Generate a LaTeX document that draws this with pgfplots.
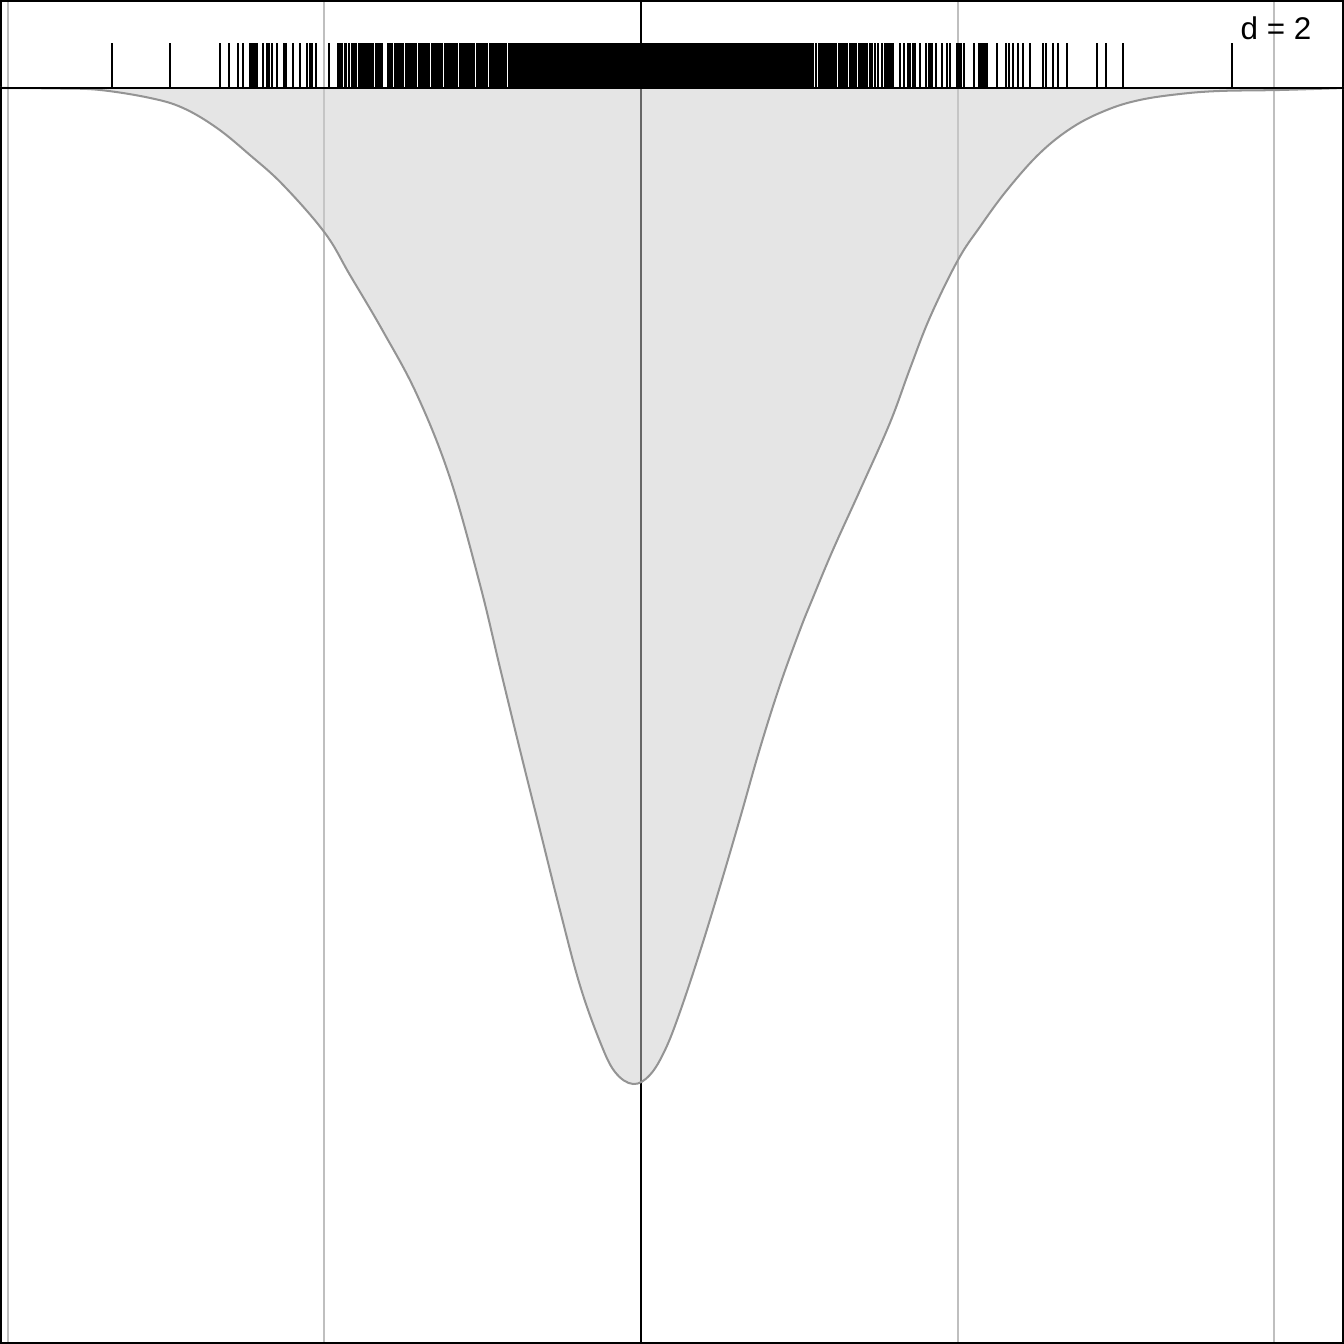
\documentclass[border=0pt]{standalone}
\usepackage{pgfplots}
\pgfplotsset{compat=1.18}
\usepackage{pgfplotstable}
\usepackage{fontspec}
\setmainfont{Liberation Sans}

% rug positions (data units, grid lines at -2..2)
\pgfplotstableread[row sep=\\]{
x\\ -1.671\\ -1.488\\ -1.329\\ -1.300\\ -1.272\\ -1.258\\ -1.235\\ -1.230\\ -1.224\\ -1.218\\ -1.213\\
-1.193\\ -1.182\\ -1.174\\ -1.166\\ -1.148\\ -1.127\\ -1.121\\ -1.100\\ -1.077\\ -1.054\\ -1.045\\ -1.040\\ -1.026\\ -0.984\\
-0.957\\ -0.950\\ -0.944\\ -0.936\\ -0.930\\ -0.921\\ -0.913\\ -0.907\\ -0.899\\ -0.891\\ -0.885\\ -0.879\\ -0.872\\ -0.866\\
-0.859\\ -0.851\\ -0.845\\ -0.838\\ -0.831\\ -0.825\\ -0.818\\
-0.799\\ -0.792\\ -0.786\\ -0.778\\ -0.771\\ -0.765\\ -0.757\\ -0.750\\ -0.743\\ -0.736\\ -0.729\\ -0.722\\ -0.716\\ -0.709\\
-0.702\\ -0.695\\ -0.688\\ -0.681\\ -0.675\\ -0.668\\ -0.661\\ -0.654\\ -0.647\\ -0.641\\ -0.634\\ -0.627\\ -0.620\\ -0.613\\
-0.607\\ -0.600\\ -0.593\\ -0.586\\ -0.580\\ -0.573\\ -0.566\\ -0.559\\ -0.553\\ -0.546\\ -0.539\\ -0.532\\ -0.526\\ -0.519\\
-0.512\\ -0.505\\ -0.499\\ -0.492\\ -0.485\\ -0.478\\ -0.472\\ -0.465\\ -0.458\\ -0.451\\ -0.445\\ -0.438\\ -0.431\\ -0.426\\
-0.418\\ -0.412\\ -0.406\\ -0.400\\ -0.394\\ -0.388\\ -0.382\\ -0.376\\ -0.370\\ -0.364\\ -0.358\\ -0.352\\ -0.346\\ -0.340\\
-0.334\\ -0.328\\ -0.322\\ -0.316\\ -0.310\\ -0.304\\ -0.298\\ -0.292\\ -0.286\\ -0.280\\ -0.274\\ -0.268\\ -0.262\\ -0.256\\
-0.250\\ -0.244\\ -0.238\\ -0.232\\ -0.226\\ -0.220\\ -0.214\\ -0.208\\ -0.202\\ -0.196\\ -0.190\\ -0.184\\ -0.178\\ -0.172\\
-0.166\\ -0.160\\ -0.154\\ -0.148\\ -0.142\\ -0.136\\ -0.130\\ -0.124\\ -0.118\\ -0.112\\ -0.106\\ -0.100\\ -0.094\\ -0.088\\
-0.082\\ -0.076\\ -0.070\\ -0.064\\ -0.058\\ -0.052\\ -0.046\\ -0.040\\ -0.034\\ -0.028\\ -0.022\\ -0.016\\ -0.010\\ -0.004\\
0.002\\ 0.008\\ 0.014\\ 0.020\\ 0.026\\ 0.032\\ 0.038\\ 0.044\\ 0.050\\ 0.056\\ 0.062\\ 0.068\\ 0.074\\ 0.080\\ 0.086\\
0.092\\ 0.098\\ 0.104\\ 0.110\\ 0.116\\ 0.122\\ 0.128\\ 0.134\\ 0.140\\ 0.146\\ 0.152\\ 0.158\\ 0.164\\ 0.170\\ 0.176\\
0.182\\ 0.188\\ 0.194\\ 0.200\\ 0.206\\ 0.212\\ 0.218\\ 0.224\\ 0.230\\ 0.236\\ 0.242\\ 0.248\\ 0.254\\ 0.260\\ 0.266\\
0.272\\ 0.278\\ 0.284\\ 0.290\\ 0.296\\ 0.302\\ 0.308\\ 0.314\\ 0.320\\ 0.326\\ 0.332\\ 0.338\\ 0.344\\ 0.350\\ 0.356\\
0.362\\ 0.368\\ 0.374\\ 0.380\\ 0.386\\ 0.392\\ 0.398\\ 0.404\\ 0.410\\ 0.416\\ 0.422\\ 0.428\\ 0.434\\ 0.440\\ 0.446\\
0.452\\ 0.458\\ 0.464\\ 0.470\\ 0.476\\ 0.482\\ 0.488\\ 0.494\\ 0.500\\ 0.506\\ 0.512\\ 0.518\\ 0.524\\ 0.530\\ 0.536\\ 0.542\\
0.554\\ 0.561\\ 0.568\\ 0.575\\ 0.582\\ 0.589\\ 0.596\\ 0.603\\ 0.610\\ 0.617\\ 0.624\\ 0.631\\ 0.638\\ 0.645\\ 0.652\\
0.659\\ 0.666\\ 0.673\\ 0.680\\ 0.687\\ 0.694\\ 0.701\\ 0.708\\ 0.715\\ 0.722\\ 0.729\\
0.739\\ 0.748\\ 0.761\\ 0.770\\ 0.777\\ 0.784\\ 0.790\\ 0.796\\ 0.818\\ 0.830\\ 0.843\\ 0.850\\ 0.858\\ 0.865\\ 0.881\\
0.900\\ 0.908\\ 0.914\\ 0.919\\ 0.931\\ 0.950\\ 0.966\\ 0.976\\ 0.998\\ 1.004\\ 1.010\\ 1.020\\ 1.051\\ 1.067\\ 1.073\\
1.080\\ 1.087\\ 1.093\\ 1.125\\ 1.153\\ 1.163\\ 1.176\\ 1.189\\ 1.205\\ 1.228\\ 1.270\\ 1.279\\ 1.300\\ 1.318\\ 1.344\\
1.439\\ 1.468\\ 1.521\\ 1.867\\
-0.415\\ -0.409\\ -0.403\\ -0.397\\ -0.391\\ -0.385\\ -0.379\\ -0.373\\ -0.367\\ -0.361\\ -0.355\\ -0.349\\ -0.343\\ -0.337\\
-0.331\\ -0.325\\ -0.319\\ -0.313\\ -0.307\\ -0.301\\ -0.295\\ -0.289\\ -0.283\\ -0.277\\ -0.271\\ -0.265\\ -0.259\\ -0.253\\
-0.247\\ -0.241\\ -0.235\\ -0.229\\ -0.223\\ -0.217\\ -0.211\\ -0.205\\ -0.199\\ -0.193\\ -0.187\\ -0.181\\ -0.175\\ -0.169\\
-0.163\\ -0.157\\ -0.151\\ -0.145\\ -0.139\\ -0.133\\ -0.127\\ -0.121\\ -0.115\\ -0.109\\ -0.103\\ -0.097\\ -0.091\\ -0.085\\
-0.079\\ -0.073\\ -0.067\\ -0.061\\ -0.055\\ -0.049\\ -0.043\\ -0.037\\ -0.031\\ -0.025\\ -0.019\\ -0.013\\ -0.007\\ -0.001\\
0.005\\ 0.011\\ 0.017\\ 0.023\\ 0.029\\ 0.035\\ 0.041\\ 0.047\\ 0.053\\ 0.059\\ 0.065\\ 0.071\\ 0.077\\ 0.083\\ 0.089\\
0.095\\ 0.101\\ 0.107\\ 0.113\\ 0.119\\ 0.125\\ 0.131\\ 0.137\\ 0.143\\ 0.149\\ 0.155\\ 0.161\\ 0.167\\ 0.173\\ 0.179\\
0.185\\ 0.191\\ 0.197\\ 0.203\\ 0.209\\ 0.215\\ 0.221\\ 0.227\\ 0.233\\ 0.239\\ 0.245\\ 0.251\\ 0.257\\ 0.263\\ 0.269\\
0.275\\ 0.281\\ 0.287\\ 0.293\\ 0.299\\ 0.305\\ 0.311\\ 0.317\\ 0.323\\ 0.329\\ 0.335\\ 0.341\\ 0.347\\ 0.353\\ 0.359\\
0.365\\ 0.371\\ 0.377\\ 0.383\\ 0.389\\ 0.395\\ 0.401\\ 0.407\\ 0.413\\ 0.419\\ 0.425\\ 0.431\\ 0.437\\ 0.443\\ 0.449\\
0.455\\ 0.461\\ 0.467\\ 0.473\\ 0.479\\ 0.485\\ 0.491\\ 0.497\\ 0.503\\ 0.509\\ 0.515\\ 0.521\\ 0.527\\ 0.533\\ 0.539\\
}\rug

\begin{document}
\begin{tikzpicture}
\begin{axis}[width=14cm, height=14cm, scale only axis,
  xmin=-2.024, xmax=2.220, ymin=-1.256, ymax=0.088,
  axis line style={black, line width=1.2pt},
  xtick={-2,-1,1,2}, ytick=\empty, xticklabels={},
  major tick length=0pt,
  xmajorgrids, grid style={black!25, line width=0.6pt}]

% zero line, under the density fill
\addplot[black, line width=0.75pt] coordinates {(0,-1.256)(0,0.088)};

% density (drawn downwards)
\addplot[black!42, line width=0.6pt, fill=black!20, fill opacity=0.5, smooth, tension=0.62]
  coordinates {
  (-2.024,0)(-1.835,-0.0005)(-1.708,-0.002)(-1.550,-0.010)(-1.446,-0.020)
  (-1.339,-0.040)(-1.235,-0.067)(-1.130,-0.097)(-0.998,-0.145)(-0.919,-0.187)
  (-0.815,-0.243)(-0.707,-0.307)(-0.603,-0.390)(-0.508,-0.497)(-0.445,-0.580)
  (-0.382,-0.662)(-0.319,-0.742)(-0.256,-0.822)(-0.193,-0.897)(-0.129,-0.954)
  (-0.082,-0.984)(-0.025,-0.996)(0.028,-0.987)(0.076,-0.962)(0.123,-0.924)
  (0.186,-0.864)(0.249,-0.799)(0.313,-0.730)(0.376,-0.660)(0.439,-0.597)
  (0.502,-0.542)(0.540,-0.512)(0.606,-0.462)(0.692,-0.402)(0.786,-0.335)
  (0.849,-0.281)(0.913,-0.229)(1.001,-0.172)(1.070,-0.139)(1.156,-0.102)
  (1.260,-0.065)(1.364,-0.039)(1.471,-0.022)(1.575,-0.012)(1.702,-0.006)
  (1.828,-0.003)(2.018,-0.002)(2.220,0)};

% baseline
\addplot[black, line width=0.75pt] coordinates {(-2.024,0)(2.220,0)};

% rug
\addplot[ycomb, black, line width=0.6pt, y filter/.expression={0.045}]
  table[x=x, y=x] {\rug};

\node[anchor=east, font=\fontsize{9.3}{11}\selectfont, inner sep=0pt]
  at (axis cs:2.119,0.060) {d = 2};
\end{axis}
\pgfresetboundingbox
\path[use as bounding box] (current axis.south west) rectangle (current axis.north east);
\end{tikzpicture}
\end{document}
